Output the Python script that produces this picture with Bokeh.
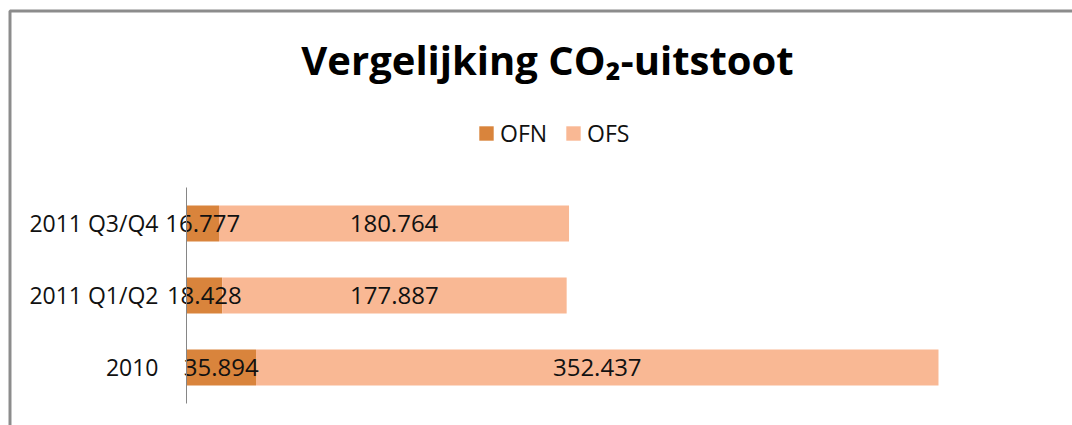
from bokeh.plotting import figure
from bokeh.models import (ColumnDataSource, Range1d, Legend, LegendItem, BoxAnnotation,
                          Label, FixedTicker)
from bokeh.core.properties import value
from bokeh.embed import file_html
from bokeh.resources import INLINE

categories = ["2010", "2011 Q1/Q2", "2011 Q3/Q4"]
ofn = [35.894, 18.428, 16.777]
ofs = [352.437, 177.887, 180.764]
series = ["OFN", "OFS"]
colors = ["#D9843C", "#F9B894"]
title_text = "Vergelijking CO\u2082-uitstoot"

FONT = "Open Sans"
W, H = 1072, 425

pos = list(range(len(categories)))
src = ColumnDataSource(dict(pos=pos, OFN=ofn, OFS=ofs))

p = figure(width=W, height=H, x_range=Range1d(-96.05, 457.53),
           y_range=Range1d(-0.8056, 5.0972), output_backend="svg",
           toolbar_location=None, min_border=0)
p.title.visible = False
p.outline_line_color = None
p.xgrid.visible = False
p.ygrid.visible = False
p.xaxis.visible = False

rs = p.hbar_stack(series, y="pos", height=0.5, color=colors, source=src,
                  line_color=None)

# data labels centred in each segment
lab_x, lab_y, lab_t = [], [], []
for i, a, b in zip(pos, ofn, ofs):
    lab_x += [a / 2, a + b / 2]
    lab_y += [i, i]
    lab_t += [f"{a:.3f}", f"{b:.3f}"]
p.text(x=lab_x, y=lab_y, text=lab_t, text_align="center", text_baseline="middle",
       text_font=value(FONT), text_font_size="24px", text_color="#111111")

ax = p.yaxis[0]
ax.fixed_location = 0
ax.bounds = (-0.5, len(categories) - 0.5)
ax.ticker = FixedTicker(ticks=pos)
ax.major_label_overrides = {i: c for i, c in zip(pos, categories)}
ax.axis_line_color = "#868686"
ax.axis_line_width = 1
ax.major_tick_line_color = None
ax.minor_tick_line_color = None
ax.major_tick_out = 0
ax.major_tick_in = 0
ax.major_label_standoff = 28
ax.major_label_text_font = FONT
ax.major_label_text_font_size = "23px"
ax.major_label_text_color = "#111111"

legend = Legend(items=[LegendItem(label=s, renderers=[r]) for s, r in zip(series, rs)],
                orientation="horizontal", location=(477, 276), margin=0, padding=0,
                border_line_color=None, background_fill_alpha=0,
                glyph_width=18, glyph_height=18, label_standoff=5, spacing=17,
                label_text_font=FONT, label_text_font_size="23px",
                label_text_color="#111111")
p.add_layout(legend, "center")

title = Label(text=title_text, x=547, y=366, x_units="screen", y_units="screen",
              text_align="center", text_baseline="alphabetic",
              text_font=FONT, text_font_size="40px", text_font_style="bold",
              text_color="#000000")
p.add_layout(title)

# chart-area border (top and left edges visible; the rest is cropped)
frame_box = BoxAnnotation(left=9.5, top=H - 10.5, right=W + 50, bottom=-50,
                          left_units="screen", right_units="screen",
                          top_units="screen", bottom_units="screen",
                          fill_alpha=0, line_color="#8c8c8c", line_alpha=1.0,
                          line_width=3, level="overlay")
p.add_layout(frame_box)

open("out.html", "w").write(file_html(p, INLINE))
